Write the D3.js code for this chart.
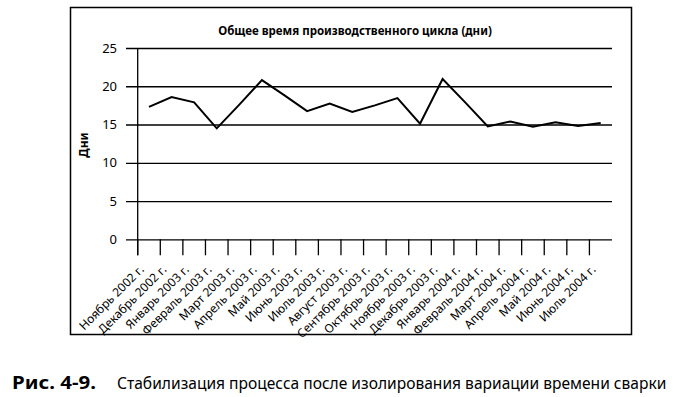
<!DOCTYPE html>
<html>
<head>
<meta charset="utf-8">
<script src="https://cdn.jsdelivr.net/npm/d3@7"></script>
<style>
  body { margin: 0; background: #fff; }
  text { font-family: "Noto Sans", sans-serif; fill: #000; }
</style>
</head>
<body>
<svg id="chart" width="679" height="397"></svg>
<script>
var months = ["Ноябрь 2002 г.", "Декабрь 2002 г.", "Январь 2003 г.", "Февраль 2003 г.",
  "Март 2003 г.", "Апрель 2003 г.", "Май 2003 г.", "Июнь 2003 г.", "Июль 2003 г.",
  "Август 2003 г.", "Сентябрь 2003 г.", "Октябрь 2003 г.", "Ноябрь 2003 г.",
  "Декабрь 2003 г.", "Январь 2004 г.", "Февраль 2004 г.", "Март 2004 г.",
  "Апрель 2004 г.", "Май 2004 г.", "Июнь 2004 г.", "Июль 2004 г."];

var days = [17.3, 18.6, 17.9, 14.5, 17.6, 20.8, 18.8, 16.75, 17.75, 16.65, 17.5,
  18.45, 15.1, 20.95, 17.9, 14.75, 15.4, 14.7, 15.3, 14.8, 15.2];

var yTicks = [0, 5, 10, 15, 20, 25];

var chartTitle = "Общее время производственного цикла (дни)";
var yTitle = "Дни";
var figNo = "Рис. 4-9.";
var figText = "Стабилизация процесса после изолирования вариации времени сварки";

var svg = d3.select("#chart");

// frame
svg.append("rect")
    .attr("x", 70.5).attr("y", 7.5)
    .attr("width", 561).attr("height", 327)
    .attr("fill", "none").attr("stroke", "#000").attr("stroke-width", 1.5);

var x = d3.scaleBand()
    .domain(months)
    .range([137.7, 612])
    .padding(0);

var y = d3.scaleLinear()
    .domain([0, 25])
    .range([239.3, 48]);

var bw = x.bandwidth();

// gridlines + y labels
var gy = svg.append("g")
    .attr("transform", "translate(612,0)")
    .call(d3.axisLeft(y).tickValues(yTicks).tickSize(486).tickPadding(9));
gy.select(".domain").remove();
gy.selectAll("line").attr("stroke", "#000").attr("stroke-width", 1.3);
gy.selectAll("text")
    .style("font-size", "13px")
    .style("font-family", "'Noto Sans', sans-serif");

// y axis line
svg.append("line")
    .attr("x1", 137.7).attr("x2", 137.7)
    .attr("y1", y(25)).attr("y2", y(0) + 16)
    .attr("stroke", "#000").attr("stroke-width", 1.3);

// x axis ticks at band edges
var gx = svg.append("g")
    .attr("transform", "translate(0," + y(0) + ")")
    .call(d3.axisBottom(x).tickSize(16));
gx.select(".domain").remove();
gx.selectAll("line")
    .attr("x1", -bw / 2).attr("x2", -bw / 2)
    .attr("stroke", "#000").attr("stroke-width", 1.3);
gx.selectAll("text")
    .style("font-size", "12px")
    .style("font-family", "'Noto Sans', sans-serif")
    .attr("text-anchor", "end")
    .attr("dy", null)
    .attr("y", null)
    .attr("transform", "translate(" + (-bw / 2 + 7) + ",31) rotate(-45)");

// line
var line = d3.line()
    .x(function(d, i) { return x(months[i]) + bw / 2; })
    .y(function(d) { return y(d); });

svg.append("path")
    .datum(days)
    .attr("d", line)
    .attr("fill", "none")
    .attr("stroke", "#000")
    .attr("stroke-width", 2)
    .attr("stroke-linejoin", "miter");

// titles
svg.append("text")
    .attr("x", 355).attr("y", 35)
    .attr("text-anchor", "middle")
    .style("font-size", "11.5px")
    .style("font-weight", "bold")
    .text(chartTitle);

svg.append("text")
    .attr("transform", "translate(88,145) rotate(-90)")
    .attr("text-anchor", "middle")
    .style("font-size", "12px")
    .style("font-weight", "bold")
    .text(yTitle);

// caption: squeezed to the widths in the picture
function fitText(txt, x0, y0, width, size, bold) {
    var t = svg.append("text")
        .style("font-size", size + "px")
        .style("font-weight", bold ? "bold" : "normal")
        .text(txt);
    var w = t.node().getComputedTextLength();
    t.attr("transform", "translate(" + x0 + "," + y0 + ") scale(" + (width / w) + ",1)");
}
fitText(figNo, 12, 389, 84, 17, true);
fitText(figText, 117, 389, 550, 16.5, false);
</script>
</body>
</html>
